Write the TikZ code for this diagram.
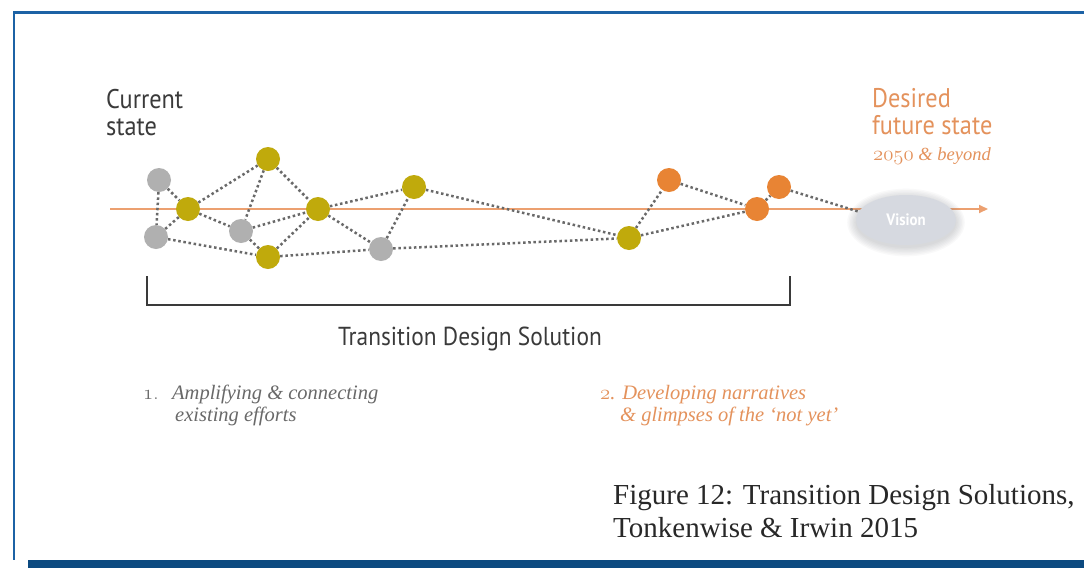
\documentclass[tikz,border=0pt]{standalone}
\usepackage{fontspec}
\usetikzlibrary{arrows.meta,shapes.geometric}
\newfontfamily\dinfont{PT Sans}[FakeStretch=0.9]
\newfontfamily\capfont{Liberation Serif}
\definecolor{frameblue}{RGB}{28,98,165}
\definecolor{barblue}{RGB}{12,74,128}
\definecolor{axisorange}{RGB}{236,160,112}
\definecolor{nodeorange}{RGB}{232,132,52}
\definecolor{nodegold}{RGB}{192,170,12}
\definecolor{nodegray}{RGB}{176,176,176}
\definecolor{dotgray}{RGB}{105,105,105}
\definecolor{labelgray}{RGB}{58,58,58}
\definecolor{softgray}{RGB}{105,105,105}
\definecolor{labelorange}{RGB}{228,146,92}
\definecolor{visionfill}{RGB}{214,217,224}
\definecolor{halogray}{RGB}{120,124,132}
\definecolor{captiongray}{RGB}{40,40,40}
\pgfdeclarelayer{paper}
\pgfdeclarelayer{axis}
\pgfdeclarelayer{links}
\pgfsetlayers{paper,axis,links,main}
\begin{document}
\begin{tikzpicture}[x=1pt,y=-1pt,
  dot/.style={circle,minimum size=24pt,inner sep=0pt},
  gold/.style={dot,fill=nodegold},
  grey/.style={dot,fill=nodegray},
  amber/.style={dot,fill=nodeorange},
  link/.style={dotgray,line width=2.5pt,dash pattern=on 2.5pt off 2.7pt},
  headline/.style={inner sep=0pt,anchor=base west,align=left,
    font=\dinfont\fontsize{27}{27}\selectfont},
  note/.style={inner sep=0pt,anchor=base west,align=left,
    font=\capfont\itshape\fontsize{20.5}{22}\selectfont}]
\useasboundingbox (0,0) rectangle (1084,568);
\begin{pgfonlayer}{paper}
  \fill[white] (0,0) rectangle (1084,568);
\end{pgfonlayer}

% page frame
\draw[frameblue,line width=2.5pt] (1084,12.3) -- (13.8,12.3) -- (13.8,560);
\fill[barblue] (28,559.5) rectangle (1084,568);

% timeline axis
\coordinate (axisstart) at (110,209);
\coordinate (axisend) at (988,209);
\begin{pgfonlayer}{axis}
  \draw[axisorange,line width=2pt,-{Triangle[length=9pt,width=8pt]}] (axisstart) -- (axisend);
\end{pgfonlayer}

% efforts and glimpses
\node[grey] (g1) at (159,180) {};
\node[grey] (g2) at (156,237) {};
\node[gold] (y1) at (188,209) {};
\node[gold] (y2) at (268,159) {};
\node[grey] (g3) at (241,231) {};
\node[gold] (y3) at (318,209) {};
\node[gold] (y4) at (268,257) {};
\node[gold] (y5) at (414,187) {};
\node[grey] (g4) at (381,249) {};
\node[gold] (y6) at (629,238) {};
\node[amber] (o1) at (669,180) {};
\node[amber] (o2) at (757,209) {};
\node[amber] (o3) at (779,187) {};

\node[ellipse,fill=visionfill,minimum width=100pt,minimum height=50pt,inner sep=0pt,
  text=white,font=\dinfont\bfseries\fontsize{16.5}{16.5}\selectfont] (vis) at (906,220) {Vision};

% dotted connections and the soft glow round the vision
\begin{pgfonlayer}{links}
  \foreach \k in {1,...,7}
    \fill[halogray,opacity=0.045] ([yshift=-2.5pt]vis.center)
      ellipse [x radius={49+1.4*\k}, y radius={24+1.4*\k}];
  \draw[link] (g1) -- (g2);
  \draw[link] (g1) -- (y1);
  \draw[link] (g2) -- (y1);
  \draw[link] (g2) -- (y4);
  \draw[link] (y1) -- (y2);
  \draw[link] (y1) -- (g3);
  \draw[link] (y2) -- (g3);
  \draw[link] (y2) -- (y3);
  \draw[link] (g3) -- (y3);
  \draw[link] (g3) -- (y4);
  \draw[link] (y4) -- (y3);
  \draw[link] (y4) -- (g4);
  \draw[link] (y3) -- (y5);
  \draw[link] (y3) -- (g4);
  \draw[link] (g4) -- (y5);
  \draw[link] (g4) -- (y6);
  \draw[link] (y5) -- (y6);
  \draw[link] (y6) -- (o1);
  \draw[link] (y6) -- (o2);
  \draw[link] (o1) -- (o2);
  \draw[link] (o2) -- (o3);
  \draw[link] (o3) -- (vis.170);
\end{pgfonlayer}

% end labels (anchored on the baseline of their last line)
\node[headline,text=labelgray] (current) at (106,135) {Current\\state};
\node[headline,text=labelorange] (desired) at (872,134) {Desired\\future state};
\node[inner sep=0pt,anchor=base west,text=labelorange,
  font=\capfont\itshape\fontsize{18.5}{18.5}\selectfont] (beyond) at (873,160)
  {\fontsize{21}{21}\selectfont$\mathnormal{2050}$\fontsize{18.5}{18.5}\selectfont\ \& beyond};

% bracket spanning the solution
\coordinate (bracketL) at (147,276);
\coordinate (bracketR) at (790,276);
\draw[labelgray,line width=2pt] (bracketL) -- ++(0,29) -| (bracketR);
\node[inner sep=0pt,anchor=base,text=labelgray,
  font=\dinfont\fontsize{26}{26}\selectfont] (solution) at (470,345) {Transition Design Solution};

% numbered notes
\node[inner sep=0pt,anchor=base west,text=softgray,font=\fontsize{21}{21}\selectfont] (num1) at (143,399) {$\mathnormal{1}$.};
\node[note,text=softgray] (note1) at (172,421) {Amplifying \& connecting\\\hspace*{3pt}existing efforts};
\node[note,text=labelorange] (note2) at (600,421) {{\fontsize{22}{22}\selectfont$\mathnormal{2}$}. Developing narratives\\\hspace*{20pt}\& glimpses of the ‘not yet’};

% caption
\node[inner sep=0pt,anchor=base west,align=left,text=captiongray,
  font=\capfont\fontsize{29}{33}\selectfont] (caption) at (613,537)
  {Figure 12: Transition Design Solutions,\\Tonkenwise \& Irwin 2015};
\end{tikzpicture}
\end{document}
